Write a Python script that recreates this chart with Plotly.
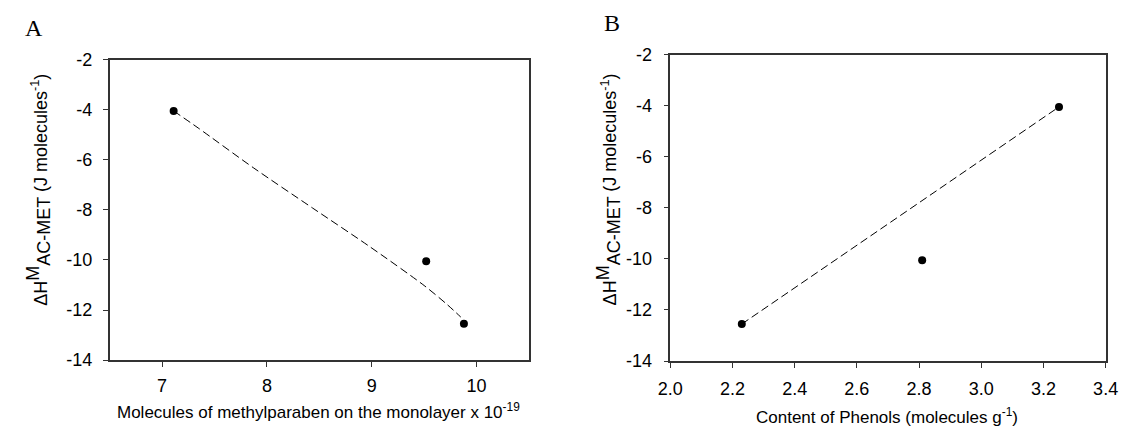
import plotly.graph_objects as go

# ---- data ----
a_x = [7.11, 9.52, 9.88]
a_y = [-4.05, -10.05, -12.55]
a_fit_x = [7.11, 7.344, 7.875, 8.437, 8.968, 9.50, 9.72, 9.85]
a_fit_y = [-4.05, -4.73, -6.33, -7.93, -9.43, -11.02, -11.78, -12.28]

b_x = [2.23, 2.81, 3.25]
b_y = [-12.55, -10.05, -4.05]
b_fit_x = [2.23, 3.25]
b_fit_y = [-12.55, -4.05]

a_xticks = [7, 8, 9, 10]
b_xticks = [2.0, 2.2, 2.4, 2.6, 2.8, 3.0, 3.2, 3.4]
y_ticks = [-2, -4, -6, -8, -10, -12, -14]

W, H = 1133, 435
FONT = "Liberation Sans, Arial, sans-serif"
AXC = "#333333"

fig = go.Figure()

mk = dict(color="black", size=8)

fig.add_trace(go.Scatter(x=a_fit_x, y=a_fit_y, mode="lines",
                         line=dict(color="black", width=1, dash="8px,4px", shape="spline", smoothing=0.8),
                         xaxis="x", yaxis="y", showlegend=False))
fig.add_trace(go.Scatter(x=a_x, y=a_y, mode="markers", marker=mk,
                         xaxis="x", yaxis="y", showlegend=False))
fig.add_trace(go.Scatter(x=b_fit_x, y=b_fit_y, mode="lines",
                         line=dict(color="black", width=1, dash="8px,4px"),
                         xaxis="x2", yaxis="y2", showlegend=False))
fig.add_trace(go.Scatter(x=b_x, y=b_y, mode="markers", marker=mk,
                         xaxis="x2", yaxis="y2", showlegend=False))


def px_x(p):
    return p / W


def px_y(p):
    return 1 - p / H


axis_common = dict(showline=True, linecolor=AXC, linewidth=1.5, mirror=True,
                   ticks="outside", ticklen=5, tickcolor=AXC, tickwidth=1.2,
                   showgrid=False, zeroline=False,
                   tickfont=dict(family=FONT, size=18, color="black"))

fig.update_layout(
    width=W, height=H,
    margin=dict(l=0, r=0, t=0, b=0),
    paper_bgcolor="white", plot_bgcolor="white",
    xaxis=dict(domain=[px_x(99), px_x(528)], range=[6.5, 10.5],
               tickvals=a_xticks, ticktext=[str(v) for v in a_xticks],
               anchor="y", ticklabelstandoff=4, **axis_common),
    yaxis=dict(domain=[px_y(367), px_y(52)], range=[-14, -2],
               tickvals=y_ticks, ticktext=[str(v) for v in y_ticks],
               anchor="x", ticklabelstandoff=7, **axis_common),
    xaxis2=dict(domain=[px_x(672.7), px_x(1118.3)], range=[2.0, 3.4],
                tickvals=b_xticks, ticktext=[f"{v:.1f}" for v in b_xticks],
                anchor="y2", ticklabelstandoff=6, **axis_common),
    yaxis2=dict(domain=[px_y(368), px_y(46.7)], range=[-14, -2],
                tickvals=y_ticks, ticktext=[str(v) for v in y_ticks],
                anchor="x2", ticklabelstandoff=8, **axis_common),
)

tfont = dict(family=FONT, size=17, color="black")
yfont = dict(family=FONT, size=18, color="black")
serif = dict(family="Liberation Serif, Times New Roman, serif", size=24, color="black")
ytitle = ("ΔH<sup><span style='font-size:18px'>M</span></sup>"
          "<sub><span style='font-size:18px'>AC-MET</span></sub>"
          " (J molecules<sup>-1</sup>)")
ann = [
    dict(text="A", x=px_x(21), y=px_y(19), font=serif),
    dict(text="B", x=px_x(613), y=px_y(14), font=serif),
    dict(text="Molecules of methylparaben on the monolayer x 10<sup>-19</sup>",
         x=px_x(313), y=px_y(420), font=tfont),
    dict(text="Content of Phenols (molecules g<sup>-1</sup>)",
         x=px_x(895), y=px_y(426), font=tfont),
    dict(text=ytitle, x=px_x(26), y=px_y(188), textangle=-90, font=yfont),
    dict(text=ytitle, x=px_x(609), y=px_y(188), textangle=-90, font=yfont),
]
for a in ann:
    a.update(xref="paper", yref="paper", showarrow=False, xanchor="center", yanchor="middle")
fig.update_layout(annotations=ann)

fig.write_html("out.html")
